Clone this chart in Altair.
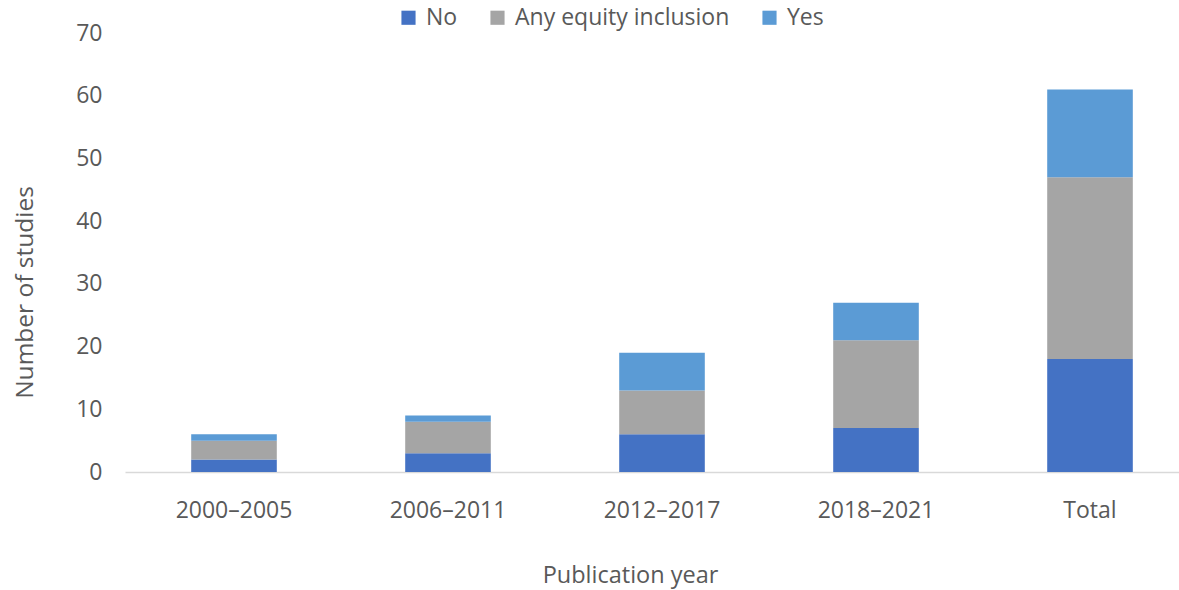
import altair as alt
import pandas as pd

periods = ["2000–2005", "2006–2011", "2012–2017", "2018–2021", "Total"]
series = ["No", "Any equity inclusion", "Yes"]
no_vals = [2, 3, 6, 7, 18]
any_vals = [3, 5, 7, 14, 29]
yes_vals = [1, 1, 6, 6, 14]
colors = ["#4472C4", "#A5A5A5", "#5B9BD5"]

rows = []
for i, p in enumerate(periods):
    for k, (s, vals) in enumerate(zip(series, [no_vals, any_vals, yes_vals])):
        rows.append({"period": p, "series": s, "value": vals[i], "order": k})
df = pd.DataFrame(rows)

FONT = "Open Sans"
TXT = "#595959"

chart = alt.Chart(df).mark_bar().encode(
    x=alt.X("period:N", sort=periods,
            scale=alt.Scale(paddingInner=0.6, paddingOuter=0.2626, align=0.589),
            axis=alt.Axis(title="Publication year", labelAngle=0, ticks=False, tickSize=0,
                          labelPadding=45, labelBaseline="alphabetic",
                          domainColor="#D9D9D9", domainWidth=1.5,
                          labelFontSize=23, labelColor=TXT, labelFont=FONT,
                          titleFontSize=23.5, titleColor=TXT, titleFont=FONT, titleFontWeight="normal",
                          titleX=505, titleY=110, titleAlign="center", titleBaseline="alphabetic")),
    y=alt.Y("value:Q", stack="zero",
            scale=alt.Scale(domain=[0, 70]),
            axis=alt.Axis(title="Number of studies", values=[0, 10, 20, 30, 40, 50, 60, 70],
                          grid=False, domain=False, ticks=False, tickSize=0, labelPadding=23,
                          labelFontSize=23, labelColor=TXT, labelFont=FONT,
                          titleFontSize=24.5, titleColor=TXT, titleFont=FONT, titleFontWeight="normal",
                          titleX=-100, titleY=259, titleAngle=270, titleAlign="center",
                          titleBaseline="middle")),
    color=alt.Color("series:N", scale=alt.Scale(domain=series, range=colors),
                    legend=alt.Legend(title=None, orient="none", direction="horizontal",
                                      legendX=272, legendY=-27, symbolType="square",
                                      symbolSize=200, symbolStrokeWidth=0, labelOffset=6,
                                      columnPadding=28, labelFontSize=23, labelColor=TXT,
                                      labelFont=FONT, labelLimit=500)),
    order=alt.Order("order:Q"),
).properties(
    width=1054, height=439,
    autosize=alt.AutoSizeParams(type="none"),
    padding={"left": 125, "top": 33, "right": 0, "bottom": 118},
    background="white",
).configure_view(stroke=None)

chart.save("out.html", embed_options={"renderer": "svg", "actions": False})
